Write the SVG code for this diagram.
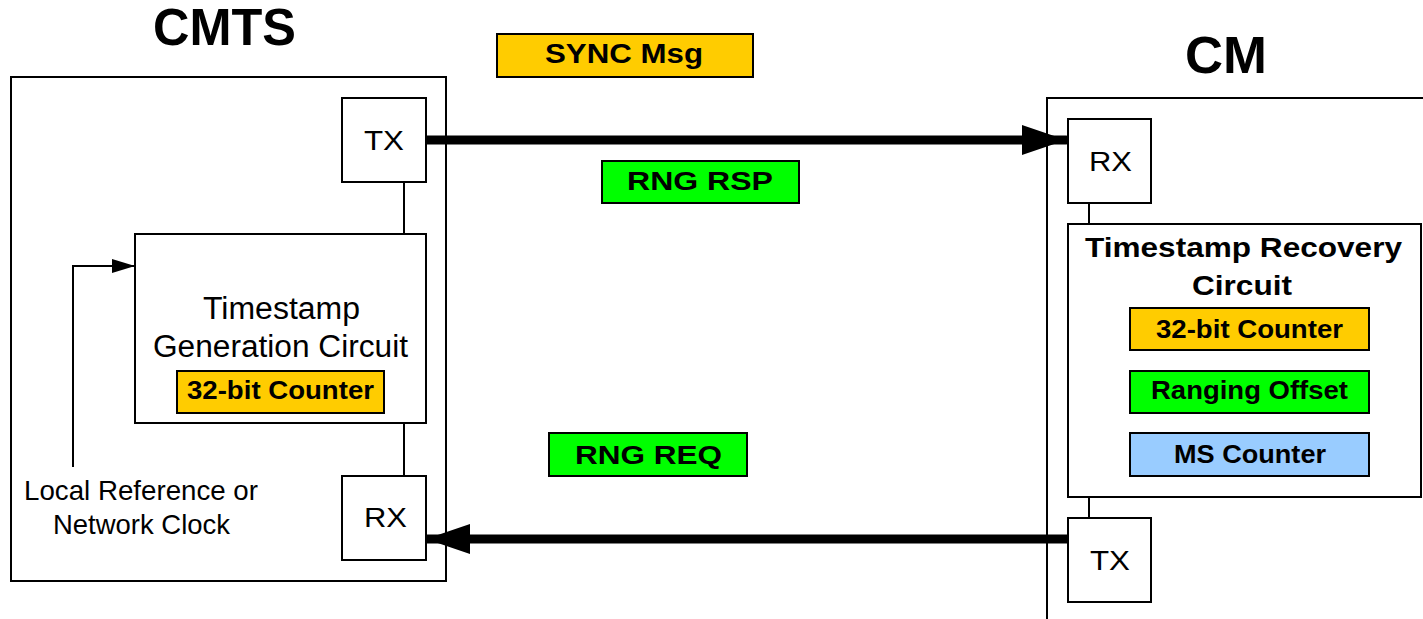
<svg xmlns="http://www.w3.org/2000/svg" width="1423" height="619" viewBox="0 0 1423 619">
<style>
.box{fill:#fff;stroke:#000;stroke-width:2}
.lbl{stroke:#000;stroke-width:2}
.t{font-family:"Liberation Sans",Arial,sans-serif;fill:#000}
.b{font-weight:bold}
.thin{stroke:#000;stroke-width:2;fill:none}
.thick{stroke:#000;stroke-width:9;fill:none;stroke-linecap:round}
</style>
<defs>
<marker id="big" markerUnits="userSpaceOnUse" markerWidth="46" markerHeight="32" refX="44" refY="15" orient="auto">
<path d="M0,0 L44,15 L0,30 Z" fill="#000"/>
</marker>
<marker id="small" markerUnits="userSpaceOnUse" markerWidth="24" markerHeight="16" refX="23" refY="7" orient="auto">
<path d="M0,0 L23,7 L0,14 Z" fill="#000"/>
</marker>
</defs>
<rect width="1423" height="619" fill="#fff"/>

<g id="cmts">
<rect class="box" x="11" y="77" width="435" height="504"/>
<text class="t b" x="224.5" y="45" font-size="51" text-anchor="middle" textLength="143" lengthAdjust="spacingAndGlyphs">CMTS</text>
</g>
<g id="cm">
<path class="thin" d="M1047,619 V98 H1425"/>
<text class="t b" x="1226" y="73" font-size="52" text-anchor="middle" textLength="82" lengthAdjust="spacingAndGlyphs">CM</text>
</g>

<g id="connectors">
<line class="thin" x1="404" y1="182" x2="404" y2="234"/>
<line class="thin" x1="404" y1="423" x2="404" y2="476"/>
<line class="thin" x1="1089" y1="203" x2="1089" y2="224"/>
<line class="thin" x1="1089" y1="497" x2="1089" y2="518"/>
<path class="thin" d="M73,467 V266 H135" marker-end="url(#small)"/>
<line class="thick" x1="426" y1="140" x2="1066" y2="140" marker-end="url(#big)"/>
<line class="thick" x1="1068" y1="539" x2="426" y2="539" marker-end="url(#big)"/>
</g>

<g id="cmts-tx">
<rect class="box" x="342" y="98" width="84" height="84"/>
<text class="t" x="384" y="150" font-size="27" text-anchor="middle" textLength="40" lengthAdjust="spacingAndGlyphs">TX</text>
</g>
<g id="cmts-tsg">
<rect class="box" x="135" y="234" width="291" height="189"/>
<text class="t" x="281.5" y="319" font-size="31" text-anchor="middle" textLength="157" lengthAdjust="spacingAndGlyphs">Timestamp</text>
<text class="t" x="280.5" y="357" font-size="31" text-anchor="middle" textLength="255" lengthAdjust="spacingAndGlyphs">Generation Circuit</text>
</g>
<g id="cmts-counter">
<rect class="lbl" x="177" y="371" width="207" height="42" fill="#FFCC00"/>
<text class="t b" x="280.5" y="399" font-size="26" text-anchor="middle" textLength="187" lengthAdjust="spacingAndGlyphs">32-bit Counter</text>
</g>
<g id="cmts-rx">
<rect class="box" x="342" y="476" width="84" height="84"/>
<text class="t" x="385.5" y="527" font-size="27" text-anchor="middle" textLength="43" lengthAdjust="spacingAndGlyphs">RX</text>
</g>
<g id="local-ref">
<text class="t" x="141" y="500" font-size="28" text-anchor="middle" textLength="234" lengthAdjust="spacingAndGlyphs">Local Reference or</text>
<text class="t" x="141.5" y="534" font-size="28" text-anchor="middle" textLength="177" lengthAdjust="spacingAndGlyphs">Network Clock</text>
</g>

<g id="sync-msg">
<rect class="lbl" x="497" y="34" width="256" height="43" fill="#FFCC00"/>
<text class="t b" x="624" y="63" font-size="27" text-anchor="middle" textLength="158" lengthAdjust="spacingAndGlyphs">SYNC Msg</text>
</g>
<g id="rng-rsp">
<rect class="lbl" x="602" y="161" width="197" height="42" fill="#00FF00"/>
<text class="t b" x="700" y="190" font-size="26" text-anchor="middle" textLength="146" lengthAdjust="spacingAndGlyphs">RNG RSP</text>
</g>
<g id="rng-req">
<rect class="lbl" x="549" y="433" width="198" height="43" fill="#00FF00"/>
<text class="t b" x="648.5" y="464" font-size="26" text-anchor="middle" textLength="147" lengthAdjust="spacingAndGlyphs">RNG REQ</text>
</g>

<g id="cm-rx">
<rect class="box" x="1068" y="119" width="83" height="84"/>
<text class="t" x="1110.5" y="171" font-size="27" text-anchor="middle" textLength="43" lengthAdjust="spacingAndGlyphs">RX</text>
</g>
<g id="cm-trc">
<rect class="box" x="1068" y="224" width="353" height="273"/>
<text class="t b" x="1243.5" y="257" font-size="28" text-anchor="middle" textLength="317" lengthAdjust="spacingAndGlyphs">Timestamp Recovery</text>
<text class="t b" x="1242" y="295" font-size="28" text-anchor="middle" textLength="100" lengthAdjust="spacingAndGlyphs">Circuit</text>
</g>
<g id="cm-counter">
<rect class="lbl" x="1130" y="308" width="239" height="42" fill="#FFCC00"/>
<text class="t b" x="1249.5" y="338" font-size="26" text-anchor="middle" textLength="187" lengthAdjust="spacingAndGlyphs">32-bit Counter</text>
</g>
<g id="cm-ranging">
<rect class="lbl" x="1130" y="371" width="239" height="42" fill="#00FF00"/>
<text class="t b" x="1249.5" y="399" font-size="26" text-anchor="middle" textLength="197" lengthAdjust="spacingAndGlyphs">Ranging Offset</text>
</g>
<g id="cm-ms">
<rect class="lbl" x="1130" y="433" width="239" height="43" fill="#99CCFF"/>
<text class="t b" x="1250" y="463" font-size="26" text-anchor="middle" textLength="152" lengthAdjust="spacingAndGlyphs">MS Counter</text>
</g>
<g id="cm-tx">
<rect class="box" x="1068" y="518" width="83" height="84"/>
<text class="t" x="1110" y="570" font-size="27" text-anchor="middle" textLength="40" lengthAdjust="spacingAndGlyphs">TX</text>
</g>
</svg>
